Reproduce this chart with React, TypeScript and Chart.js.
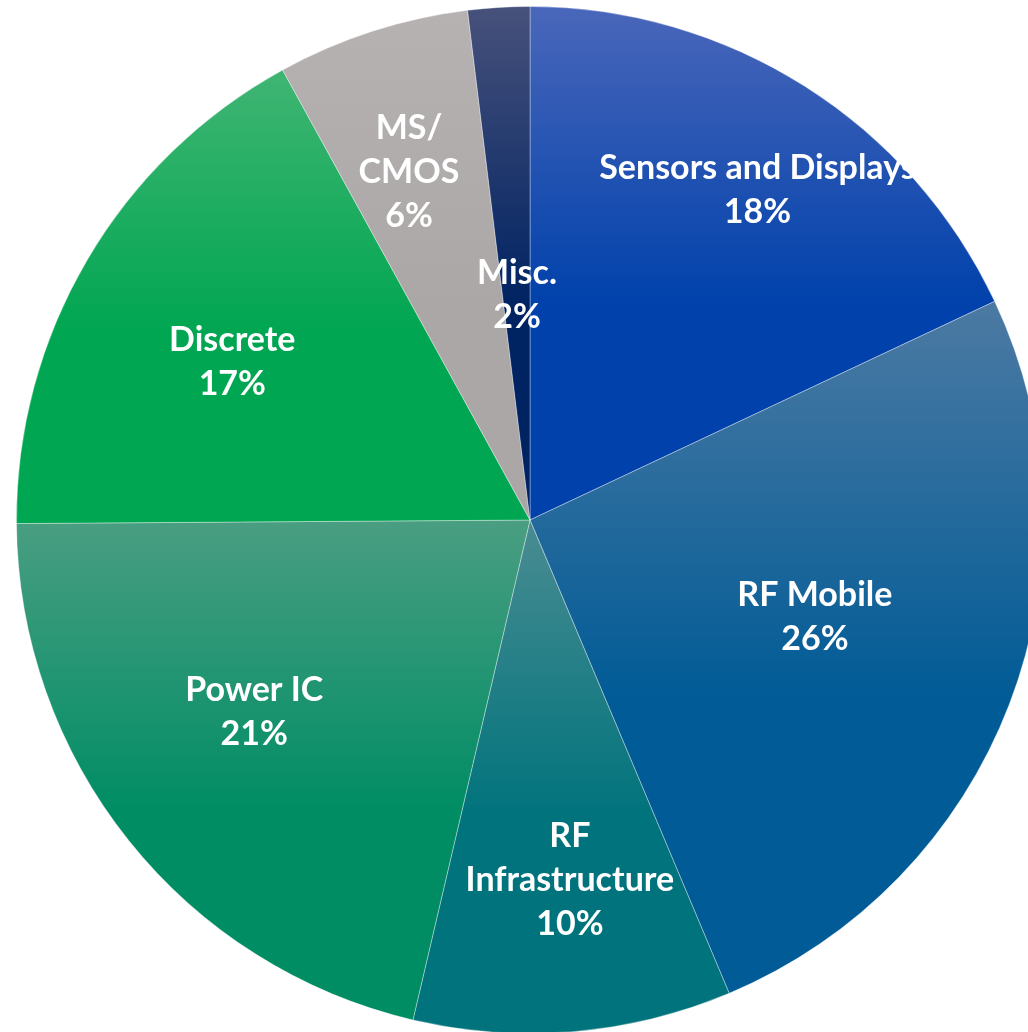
import React, { useEffect, useRef } from "react";
import { Chart, registerables } from "chart.js";

Chart.register(...registerables);

const categories = [
  "Sensors and Displays",
  "RF Mobile",
  "RF Infrastructure",
  "Power IC",
  "Discrete",
  "MS/CMOS",
  "Misc.",
];
const shares = [18.0, 25.66, 10.0, 21.23, 17.11, 6.06, 1.94];
const labelLines = [
  ["Sensors and Displays", "18%"],
  ["RF Mobile", "26%"],
  ["RF", "Infrastructure", "10%"],
  ["Power IC", "21%"],
  ["Discrete", "17%"],
  ["MS/", "CMOS", "6%"],
  ["Misc.", "2%"],
];

// styling
const lightColors = ["#4a67ba", "#4c7aa3", "#4a8c92", "#4a9e82", "#40b573", "#b6b2b1", "#47517b"];
const baseColors = ["#0041ab", "#005b96", "#00737c", "#008d64", "#00a651", "#aba7a6", "#002362"];
// [radial fraction, angle offset in degrees]
const labelPlacement = [
  [0.78, 2.2],
  [0.586, -2.2],
  [0.705, -1.5],
  [0.654, 3.8],
  [0.656, -2.5],
  [0.717, -1.3],
  [0.439, 0.2],
];

function sliceGradient(ctx: any) {
  const chart = ctx.chart;
  const area = chart.chartArea;
  const i = ctx.dataIndex;
  if (!area || i === undefined) return baseColors[i ?? 0];
  const cx = (area.left + area.right) / 2;
  const cy = (area.top + area.bottom) / 2;
  const r = Math.min(area.right - area.left, area.bottom - area.top) / 2;
  const total = shares.reduce((a, b) => a + b, 0);
  let cum = 0;
  for (let k = 0; k < i; k++) cum += shares[k];
  const a0 = (cum / total) * Math.PI * 2;
  const a1 = ((cum + shares[i]) / total) * Math.PI * 2;
  const ys = [cy, cy - Math.cos(a0) * r, cy - Math.cos(a1) * r];
  if (a0 <= 0.0001) ys.push(cy - r);
  if (a0 <= Math.PI && a1 >= Math.PI) ys.push(cy + r);
  const y0 = Math.min(...ys);
  const y1 = Math.max(...ys);
  const g = chart.ctx.createLinearGradient(0, y0, 0, y1);
  g.addColorStop(0, lightColors[i]);
  g.addColorStop(0.58, baseColors[i]);
  g.addColorStop(1, baseColors[i]);
  return g;
}

const labelPlugin = {
  id: "sliceLabels",
  afterDatasetsDraw(chart: any) {
    const meta = chart.getDatasetMeta(0);
    const c = chart.ctx;
    c.save();
    c.fillStyle = "#ffffff";
    c.font = "bold 34px Lato, 'Open Sans', sans-serif";
    c.textAlign = "center";
    c.textBaseline = "middle";
    const lh = 44;
    meta.data.forEach((arc: any, i: number) => {
      const p = arc.getProps(["x", "y", "startAngle", "endAngle", "outerRadius"], true);
      const [frac, off] = labelPlacement[i];
      const mid = (p.startAngle + p.endAngle) / 2 + (off * Math.PI) / 180;
      const x = p.x + Math.cos(mid) * p.outerRadius * frac;
      const y = p.y + Math.sin(mid) * p.outerRadius * frac;
      const lines = labelLines[i];
      const startY = y - ((lines.length - 1) * lh) / 2;
      lines.forEach((ln, j) => c.fillText(ln, x, startY + j * lh));
    });
    c.restore();
  },
};

export default function App() {
  const ref = useRef<HTMLCanvasElement | null>(null);
  useEffect(() => {
    if (!ref.current) return;
    const chart = new Chart(ref.current, {
      type: "pie",
      data: {
        labels: categories,
        datasets: [
          {
            data: shares,
            backgroundColor: sliceGradient as any,
            borderColor: "rgba(255,255,255,0.35)",
            borderWidth: 1,
          },
        ],
      },
      options: {
        responsive: false,
        animation: false,
        devicePixelRatio: 1,
        layout: { padding: 0 },
        plugins: {
          legend: { display: false },
          tooltip: { enabled: false },
          title: { display: false },
        },
      },
      plugins: [labelPlugin],
    });
    return () => chart.destroy();
  }, []);
  return (
    <div
      style={{
        position: "fixed",
        left: 0,
        top: 0,
        width: 1028,
        height: 1032,
        overflow: "hidden",
        background: "#ffffff",
      }}
    >
      <div style={{ position: "absolute", left: 16, top: 6, width: 1028, height: 1028 }}>
        <canvas ref={ref} width={1028} height={1028} />
      </div>
    </div>
  );
}
